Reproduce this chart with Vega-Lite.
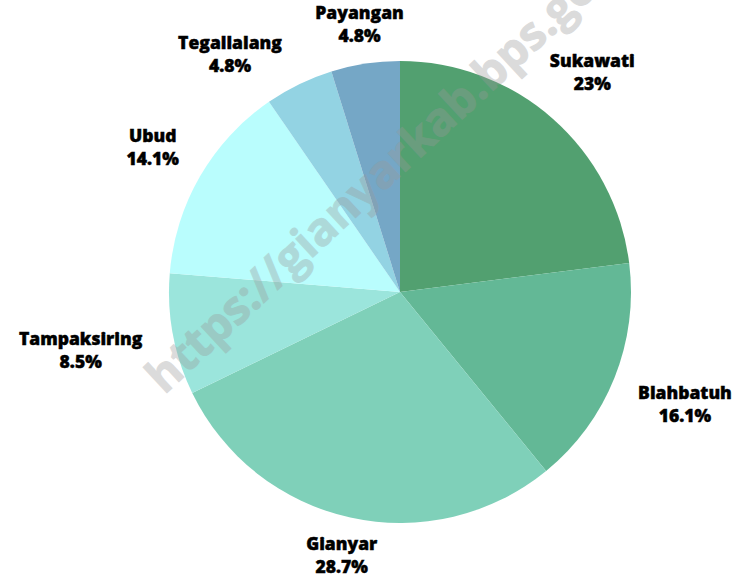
{
  "$schema": "https://vega.github.io/schema/vega-lite/v6.json",
  "autosize": {"type": "none"},
  "width": 800,
  "height": 584,
  "padding": 0,
  "background": "white",
  "config": {"view": {"stroke": null}},
  "data": {
    "values": [
      {"no": 1, "kecamatan": "Sukawati", "pct": 23},
      {"no": 2, "kecamatan": "Blahbatuh", "pct": 16.1},
      {"no": 3, "kecamatan": "Gianyar", "pct": 28.7},
      {"no": 4, "kecamatan": "Tampaksiring", "pct": 8.5},
      {"no": 5, "kecamatan": "Ubud", "pct": 14.1},
      {"no": 6, "kecamatan": "Tegallalang", "pct": 4.8},
      {"no": 7, "kecamatan": "Payangan", "pct": 4.8}
    ]
  },
  "transform": [
    {"calculate": "[datum.kecamatan, datum.pct + '%']", "as": "label"}
  ],
  "encoding": {
    "theta": {"field": "pct", "type": "quantitative", "stack": true},
    "order": {"field": "no", "type": "quantitative"}
  },
  "layer": [
    {
      "mark": {"type": "arc", "outerRadius": 231},
      "encoding": {
        "color": {
          "field": "kecamatan",
          "type": "nominal",
          "scale": {
            "domain": ["Sukawati", "Blahbatuh", "Gianyar", "Tampaksiring", "Ubud", "Tegallalang", "Payangan"],
            "range": ["#52a070", "#63b896", "#7fd0b9", "#9be5dc", "#b9fdfd", "#93d3e3", "#75a7c6"]
          },
          "legend": null
        }
      }
    },
    {
      "mark": {
        "type": "text",
        "radius": {"expr": "263 + 0.5 * max(length(datum.kecamatan), 5) * 10.5 * abs(sin(PI * (datum.pct_start + datum.pct_end) / 100))"},
        "dx": {"expr": "datum.pct < 6 && datum.pct_end < 99 ? -44 : 0"},
        "dy": {"expr": "datum.pct < 6 && datum.pct_end < 99 ? 11.5 : -11.5"},
        "font": "Open Sans",
        "fontWeight": 800,
        "fontSize": 17.5,
        "lineHeight": 23,
        "color": "black",
        "stroke": "black",
        "strokeWidth": 0.45,
        "align": "center",
        "baseline": "middle"
      },
      "encoding": {
        "text": {"field": "label", "type": "nominal"}
      }
    },
    {
      "data": {"values": [{"wm": "https://gianyarkab.bps.go.id"}]},
      "transform": [],
      "mark": {"type": "text", "font": "Open Sans", "fontWeight": 700, "fontSize": 46, "angle": -42.8, "color": "#999999", "stroke": "#999999", "strokeWidth": 1, "opacity": 0.35, "align": "center", "baseline": "middle"},
      "encoding": {
        "theta": {"value": -0.055},
        "radius": {"value": 128},
        "order": null,
        "text": {"field": "wm", "type": "nominal"}
      }
    }
  ]
}
